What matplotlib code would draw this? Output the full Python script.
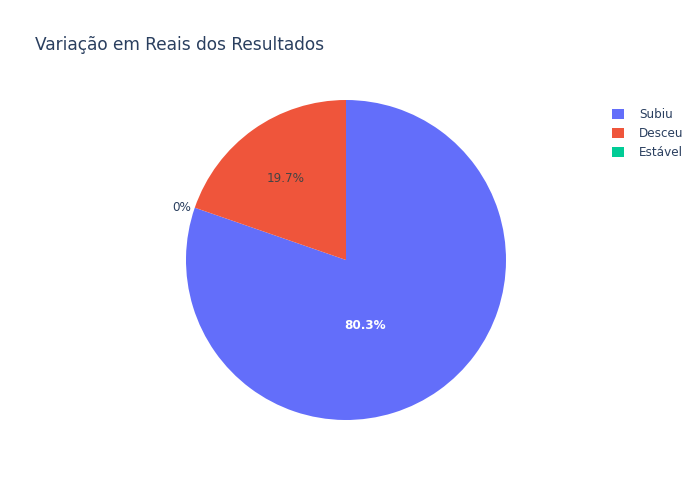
import matplotlib.pyplot as plt
from matplotlib.patches import Patch

# dados (percentuais)
categorias = ["Subiu", "Desceu", "Estável"]
valores = [80.3, 19.7, 0.0]
cores = ["#636efa", "#ef553b", "#00cc96"]
titulo = "Variação em Reais dos Resultados"

cor_texto = "#2a3f5f"

fig = plt.figure(figsize=(7, 5), dpi=100)
ax = fig.add_axes([186 / 700, 80 / 500, 320 / 700, 320 / 500])

# só as fatias não nulas viram cunhas, a "Estável" (0%) fica só no rótulo e na legenda
ax.pie(valores[:2], colors=cores[:2], startangle=90, counterclock=False,
       radius=1, wedgeprops=dict(linewidth=0))
ax.set_xlim(-1, 1)
ax.set_ylim(-1, 1)
ax.set_aspect("equal")
ax.axis("off")

# rótulos de porcentagem
ax.text(0.12, -0.41, f"{valores[0]:.1f}%", color="white", fontsize=8.64,
        ha="center", va="center", fontweight="bold")
ax.text(-0.38, 0.51, f"{valores[1]:.1f}%", color="#444444", fontsize=8.64,
        ha="center", va="center")
ax.text(-0.97, 0.33, f"{valores[2]:.0f}%", color=cor_texto, fontsize=8.64,
        ha="right", va="center")

fig.text(35 / 700, 1 - 45 / 500, titulo, fontsize=12.24, color=cor_texto,
         ha="left", va="center")

handles = [Patch(facecolor=c, edgecolor="none") for c in cores]
fig.legend(handles, categorias, loc="upper left",
           bbox_to_anchor=(612 / 700, 1 - 108 / 500), frameon=False,
           fontsize=8.64, labelcolor=cor_texto, handlelength=1.0,
           handleheight=1.0, handletextpad=1.25, labelspacing=0.5,
           borderaxespad=0, borderpad=0)

fig.savefig("out.png", dpi=100)
